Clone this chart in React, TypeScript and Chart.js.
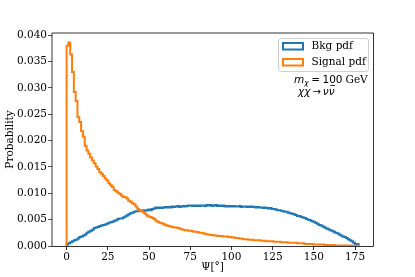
import React, { useEffect, useRef } from "react";
import { Chart, registerables } from "chart.js";

Chart.register(...registerables);

// Histogram binning (degrees)
const BIN_START = 0;
const BIN_WIDTH = 1.1;

// Background pdf per bin
const bkgPdf = [
  0.0001, 0.0003, 0.0005, 0.0007, 0.0009, 0.0011, 0.0012, 0.0014, 0.0017, 0.0018,
  0.0020, 0.0022, 0.0025, 0.0027, 0.0029, 0.0031, 0.0034, 0.0035, 0.0036, 0.0038,
  0.0039, 0.0040, 0.0041, 0.0042, 0.0044, 0.0045, 0.0046, 0.0048, 0.0049, 0.0051,
  0.0052, 0.0052, 0.0054, 0.0056, 0.0058, 0.0060, 0.0062, 0.0063, 0.0065, 0.0066,
  0.0066, 0.0067, 0.0067, 0.0068, 0.0067, 0.0068, 0.0069, 0.0068, 0.0070, 0.0071,
  0.0073, 0.0072, 0.0073, 0.0072, 0.0073, 0.0074, 0.0073, 0.0074, 0.0073, 0.0075,
  0.0074, 0.0075, 0.0076, 0.0074, 0.0075, 0.0076, 0.0075, 0.0076, 0.0077, 0.0077,
  0.0076, 0.0077, 0.0076, 0.0077, 0.0076, 0.0077, 0.0077, 0.0076, 0.0078, 0.0077,
  0.0078, 0.0076, 0.0077, 0.0078, 0.0076, 0.0077, 0.0076, 0.0077, 0.0075, 0.0076,
  0.0075, 0.0076, 0.0075, 0.0076, 0.0075, 0.0075, 0.0076, 0.0074, 0.0075, 0.0075,
  0.0074, 0.0075, 0.0074, 0.0075, 0.0074, 0.0073, 0.0074, 0.0073, 0.0073, 0.0072,
  0.0073, 0.0072, 0.0071, 0.0072, 0.0070, 0.0070, 0.0069, 0.0068, 0.0068, 0.0067,
  0.0066, 0.0065, 0.0065, 0.0063, 0.0062, 0.0061, 0.0060, 0.0059, 0.0057, 0.0057,
  0.0055, 0.0054, 0.0053, 0.0051, 0.0050, 0.0049, 0.0047, 0.0046, 0.0044, 0.0042,
  0.0040, 0.0039, 0.0037, 0.0035, 0.0033, 0.0032, 0.0030, 0.0029, 0.0027, 0.0025,
  0.0024, 0.0022, 0.0020, 0.0018, 0.0017, 0.0015, 0.0013, 0.0011, 0.0009, 0.0006,
  0.0004,
];

// Signal pdf per bin
const signalPdf = [
  0.0307, 0.0380, 0.0386, 0.0363, 0.0330, 0.0292, 0.0275, 0.0244, 0.0235, 0.0218,
  0.0207, 0.0190, 0.0181, 0.0175, 0.0168, 0.0162, 0.0157, 0.0151, 0.0146, 0.0140,
  0.0137, 0.0133, 0.0128, 0.0124, 0.0119, 0.0115, 0.0112, 0.0106, 0.0104, 0.0101,
  0.0099, 0.0096, 0.0093, 0.0093, 0.0090, 0.0086, 0.0084, 0.0081, 0.0079, 0.0075,
  0.0070, 0.0068, 0.0066, 0.0064, 0.0061, 0.0058, 0.0056, 0.0055, 0.0053, 0.0051,
  0.0048, 0.0046, 0.0044, 0.0043, 0.0042, 0.0040, 0.0039, 0.0038, 0.0037, 0.0036,
  0.0035, 0.0035, 0.0034, 0.0033, 0.0032, 0.0031, 0.0030, 0.0030, 0.0029, 0.0029,
  0.0028, 0.0027, 0.0027, 0.0026, 0.0025, 0.0025, 0.0024, 0.0023, 0.0022, 0.0022,
  0.0021, 0.0021, 0.0020, 0.0020, 0.0019, 0.0019, 0.0019, 0.0018, 0.0018, 0.0018,
  0.0017, 0.0017, 0.0016, 0.0016, 0.0015, 0.0015, 0.0014, 0.0014, 0.0013, 0.0013,
  0.0013, 0.0012, 0.0012, 0.0012, 0.0011, 0.0011, 0.0011, 0.0011, 0.0010, 0.0010,
  0.0010, 0.0009, 0.0009, 0.0009, 0.0009, 0.0008, 0.0008, 0.0008, 0.0008, 0.0007,
  0.0007, 0.0007, 0.0007, 0.0006, 0.0006, 0.0006, 0.0006, 0.0006, 0.0005, 0.0005,
  0.0005, 0.0005, 0.0004, 0.0004, 0.0004, 0.0004, 0.0004, 0.0003, 0.0003, 0.0003,
  0.0003, 0.0003, 0.0003, 0.0002, 0.0002, 0.0002, 0.0002, 0.0002, 0.0002, 0.0001,
  0.0001, 0.0001, 0.0001, 0.0001, 0.0001, 0.0001, 0.0001, 0.0001, 0.00005, 0.00005,
  0.00003,
];

const seriesLabels = ["Bkg pdf", "Signal pdf"];
const xTicks = [0, 25, 50, 75, 100, 125, 150, 175];
const yTicks = [0, 0.005, 0.01, 0.015, 0.02, 0.025, 0.03, 0.035, 0.04];
const X_MIN = -8.85;
const X_MAX = 185.85;
const Y_MIN = 0;
const Y_MAX = 0.0404;
const xTitle = "Ψ[°]";
const yTitle = "Probability";

const BLUE = "#1f77b4";
const ORANGE = "#ff7f0e";
const SERIF = "'DejaVu Serif', serif";
const SANS = "'DejaVu Sans', sans-serif";

function toSteps(values: number[]) {
  const pts: { x: number; y: number }[] = [{ x: BIN_START, y: 0 }];
  values.forEach((v, i) => pts.push({ x: BIN_START + i * BIN_WIDTH, y: v }));
  const end = BIN_START + values.length * BIN_WIDTH;
  pts.push({ x: end, y: values[values.length - 1] });
  pts.push({ x: end, y: 0 });
  return pts;
}

const decorPlugin = {
  id: "decor",
  afterDraw(chart: any) {
    const { ctx, chartArea } = chart;
    const { left, right, top, bottom } = chartArea;
    ctx.save();
    // spines
    ctx.strokeStyle = "#000";
    ctx.lineWidth = 0.8;
    ctx.beginPath();
    ctx.moveTo(Math.round(left), Math.round(top));
    ctx.lineTo(Math.round(left), Math.round(bottom) + 0.5);
    ctx.moveTo(Math.round(left), Math.round(top));
    ctx.lineTo(Math.round(right) + 0.5, Math.round(top));
    ctx.stroke();
    ctx.beginPath();
    ctx.moveTo(Math.round(left), Math.round(bottom) + 0.5);
    ctx.lineTo(Math.round(right) + 0.5, Math.round(bottom) + 0.5);
    ctx.moveTo(Math.round(right) + 0.5, Math.round(top));
    ctx.lineTo(Math.round(right) + 0.5, Math.round(bottom) + 0.5);
    ctx.stroke();

    // legend
    const lx = 278.5, ly = 38.5, lw = 90, lh = 33;
    ctx.beginPath();
    (ctx as any).roundRect(lx, ly, lw, lh, 2.5);
    ctx.fillStyle = "rgba(255,255,255,0.8)";
    ctx.fill();
    ctx.strokeStyle = "#d0d0d0";
    ctx.lineWidth = 1;
    ctx.stroke();
    const colors = [BLUE, ORANGE];
    const rowY = [46, 62];
    ctx.font = `10.5px ${SERIF}`;
    ctx.textBaseline = "middle";
    ctx.textAlign = "left";
    seriesLabels.forEach((lab, i) => {
      ctx.strokeStyle = colors[i];
      ctx.lineWidth = 2;
      ctx.strokeRect(283, rowY[i] - 3, 20, 6.5);
      ctx.fillStyle = "#000";
      ctx.fillText(lab, 311.5, rowY[i]);
    });

    // annotation
    ctx.fillStyle = "#000";
    let x = 294;
    const y1 = 80.5;
    ctx.font = `italic 10.5px ${SANS}`;
    ctx.fillText("m", x, y1);
    x += ctx.measureText("m").width;
    ctx.font = `italic 7.5px ${SANS}`;
    ctx.fillText("χ", x, y1 + 3);
    x += ctx.measureText("χ").width + 2.5;
    ctx.font = `10.5px ${SANS}`;
    ctx.fillText("=", x, y1);
    x += ctx.measureText("=").width + 2.5;
    ctx.fillText("100", x, y1);
    x += ctx.measureText("100").width + 3;
    ctx.font = `10.5px ${SERIF}`;
    ctx.fillText("GeV", x, y1);

    let x2 = 298;
    const y2 = 92;
    ctx.font = `italic 10.5px ${SANS}`;
    ctx.fillText("χχ", x2, y2);
    x2 += ctx.measureText("χχ").width + 2;
    ctx.font = `10px ${SANS}`;
    ctx.fillText("→", x2, y2);
    x2 += ctx.measureText("→").width + 2;
    ctx.font = `italic 10.5px ${SANS}`;
    ctx.fillText("ν", x2, y2);
    x2 += ctx.measureText("ν").width;
    const nuW = ctx.measureText("ν").width;
    ctx.fillText("ν", x2, y2);
    ctx.lineWidth = 0.8;
    ctx.strokeStyle = "#000";
    ctx.beginPath();
    ctx.moveTo(x2 + 1.5, y2 - 6.5);
    ctx.lineTo(x2 + nuW + 0.5, y2 - 6.5);
    ctx.stroke();
    ctx.restore();
  },
};

export default function App() {
  const ref = useRef<HTMLCanvasElement | null>(null);
  useEffect(() => {
    if (!ref.current) return;
    const chart = new Chart(ref.current, {
      type: "line",
      data: {
        datasets: [
          {
            label: seriesLabels[0],
            data: toSteps(bkgPdf),
            borderColor: BLUE,
            borderWidth: 2,
            pointRadius: 0,
            stepped: "after",
            fill: false,
            order: 1,
          },
          {
            label: seriesLabels[1],
            data: toSteps(signalPdf),
            borderColor: ORANGE,
            borderWidth: 2,
            pointRadius: 0,
            stepped: "after",
            fill: false,
            order: 0,
          },
        ],
      },
      options: {
        responsive: false,
        animation: false,
        parsing: false,
        layout: { padding: { top: 33, right: 42, left: 0, bottom: 0 } },
        plugins: { legend: { display: false }, tooltip: { enabled: false }, title: { display: false } },
        scales: {
          x: {
            type: "linear",
            min: X_MIN,
            max: X_MAX,
            afterBuildTicks: (axis: any) => {
              axis.ticks = xTicks.map((v) => ({ value: v }));
            },
            afterFit: (scale: any) => {
              scale.height = 31;
            },
            ticks: {
              color: "#000",
              font: { family: SERIF, size: 10.5 },
              padding: 1,
              maxRotation: 0,
              autoSkip: false,
              callback: (v: any) => String(v),
            },
            grid: { drawOnChartArea: false, drawTicks: true, tickLength: 4, color: "#333", lineWidth: 1 },
            border: { display: false },
            title: { display: true, text: xTitle, color: "#000", font: { family: SERIF, size: 10.5 }, padding: { top: 2, bottom: 3 } },
          },
          y: {
            type: "linear",
            min: Y_MIN,
            max: Y_MAX,
            afterBuildTicks: (axis: any) => {
              axis.ticks = yTicks.map((v) => ({ value: v }));
            },
            afterFit: (scale: any) => {
              scale.width = 52;
            },
            ticks: {
              color: "#000",
              font: { family: SERIF, size: 10.5 },
              padding: 1,
              autoSkip: false,
              callback: (v: any) => Number(v).toFixed(3),
            },
            grid: { drawOnChartArea: false, drawTicks: true, tickLength: 4, color: "#555", lineWidth: 1 },
            border: { display: false },
            title: { display: true, text: yTitle, color: "#000", font: { family: SERIF, size: 10.5 }, padding: { top: 4, bottom: 2 } },
          },
        },
      },
      plugins: [decorPlugin],
    } as any);
    return () => chart.destroy();
  }, []);
  return (
    <div style={{ position: "absolute", left: 0, top: 0, width: 415, height: 277, background: "#fff" }}>
      <canvas ref={ref} width={415} height={277} style={{ width: 415, height: 277, display: "block" }} />
    </div>
  );
}
